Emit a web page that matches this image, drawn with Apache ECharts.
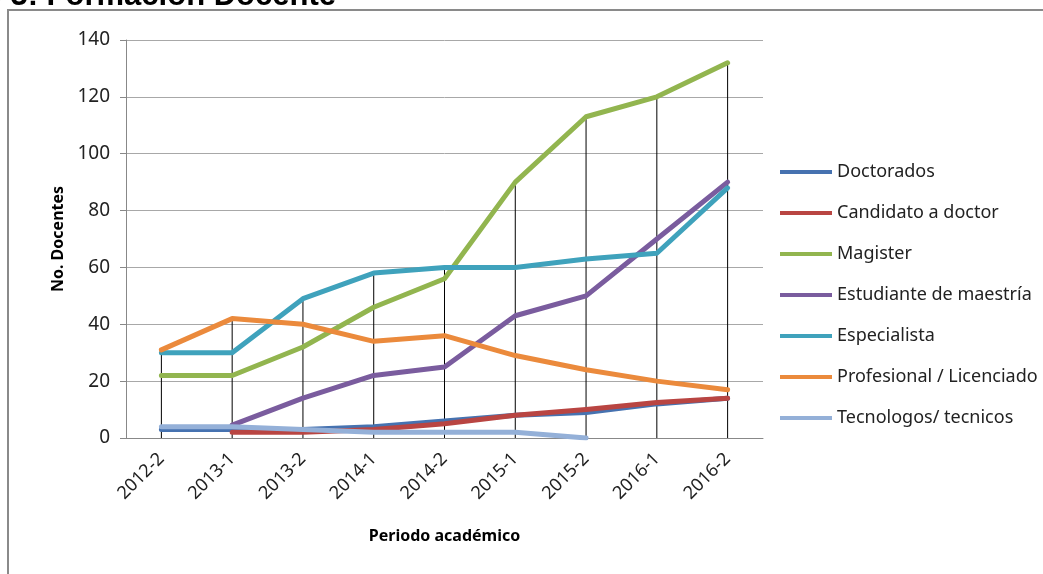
<!DOCTYPE html>
<html>
<head>
<meta charset="utf-8">
<script src="https://cdn.jsdelivr.net/npm/echarts@6/dist/echarts.min.js"></script>
<style>html,body{margin:0;padding:0;background:#fff;}#c{width:1043px;height:574px;}</style>
</head>
<body>
<div id="c"></div>
<script>
const categories = ['2012-2','2013-1','2013-2','2014-1','2014-2','2015-1','2015-2','2016-1','2016-2'];
const doctorados = [3, 3, 3, 4, 6, 8, 9, 12, 14];
const candidato = [null, 2, 2, 3, 5, 8, 10, 12.5, 14];
const magister = [22, 22, 32, 46, 56, 90, 113, 120, 132];
const estudiante = [null, 4.5, 14, 22, 25, 43, 50, 70, 90];
const especialista = [30, 30, 49, 58, 60, 60, 63, 65, 88];
const profesional = [31, 42, 40, 34, 36, 29, 24, 20, 17];
const tecnologos = [4, 4, 3, 2, 2, 2, 0, null, null];
const seriesNames = ['Doctorados','Candidato a doctor','Magister','Estudiante de maestría','Especialista','Profesional / Licenciado','Tecnologos/ tecnicos'];
const yTicks = [0, 20, 40, 60, 80, 100, 120, 140];

const seriesData = [doctorados, candidato, magister, estudiante, especialista, profesional, tecnologos];
const colors = ['#4672B0','#B94542','#92B54F','#7A5C9E','#3FA2BC','#EB8A3C','#94B0D8'];
const dropMax = categories.map((c, i) => Math.max(...seriesData.map(s => s[i] == null ? -Infinity : s[i])));

const chart = echarts.init(document.getElementById('c'), null, {renderer: 'canvas'});
const font = 'Noto Sans';
const option = {
  animation: false,
  color: colors,
  graphic: [
    {type: 'rect', shape: {x: 8, y: 10, width: 1100, height: 600}, style: {fill: 'none', stroke: '#8a8a8a', lineWidth: 2}, z: -10},
    {type: 'text', x: 336, y: -4, style: {text: 'Gráfico 3: Formación Docente', font: 'bold 31px "Liberation Sans"', textAlign: 'right', textVerticalAlign: 'middle', fill: '#000'}}
  ],
  grid: {left: 126, right: 280, top: 40, bottom: 136},
  legend: {
    orient: 'vertical', left: 775, top: 157, padding: 5,
    itemWidth: 52, itemHeight: 4, itemGap: 21, icon: 'rect',
    textStyle: {fontFamily: font, fontSize: 18, color: '#222', lineHeight: 20},
    data: seriesNames
  },
  xAxis: {
    type: 'category', data: categories, boundaryGap: true,
    axisLine: {lineStyle: {color: '#888', width: 1}},
    axisTick: {show: false},
    axisLabel: {rotate: 45, fontFamily: font, fontSize: 18, color: '#222', margin: 18, interval: 0},
    name: 'Periodo académico', nameLocation: 'middle', nameGap: 90,
    nameTextStyle: {fontFamily: font, fontSize: 16, fontWeight: 'bold', color: '#000'}
  },
  yAxis: {
    type: 'value', min: 0, max: 140, interval: 20,
    axisLine: {show: true, lineStyle: {color: '#888', width: 1}},
    axisTick: {show: true, length: 6, lineStyle: {color: '#888'}},
    splitLine: {lineStyle: {color: '#a8a8a8', width: 1}},
    axisLabel: {fontFamily: font, fontSize: 19, color: '#222', margin: 16},
    name: 'No. Docentes', nameLocation: 'middle', nameGap: 60,
    nameTextStyle: {fontFamily: font, fontSize: 16, fontWeight: 'bold', color: '#000'}
  },
  series: [
    {
      type: 'custom', name: 'drop', z: 1, silent: true,
      data: dropMax.map((v, i) => [i, v]),
      renderItem: function (params, api) {
        const top = api.coord([api.value(0), api.value(1)]);
        const bot = api.coord([api.value(0), 0]);
        return {type: 'line', shape: {x1: top[0], y1: top[1], x2: bot[0], y2: bot[1]}, style: {stroke: '#000', lineWidth: 1}};
      }
    }
  ].concat(seriesNames.map((n, k) => ({
    type: 'line', name: n, data: seriesData[k], z: 2 + k,
    showSymbol: false, symbol: 'none', connectNulls: false,
    lineStyle: {width: 5, color: colors[k], cap: 'round', join: 'round'},
    itemStyle: {color: colors[k]}
  })))
};
chart.setOption(option);
</script>
</body>
</html>
